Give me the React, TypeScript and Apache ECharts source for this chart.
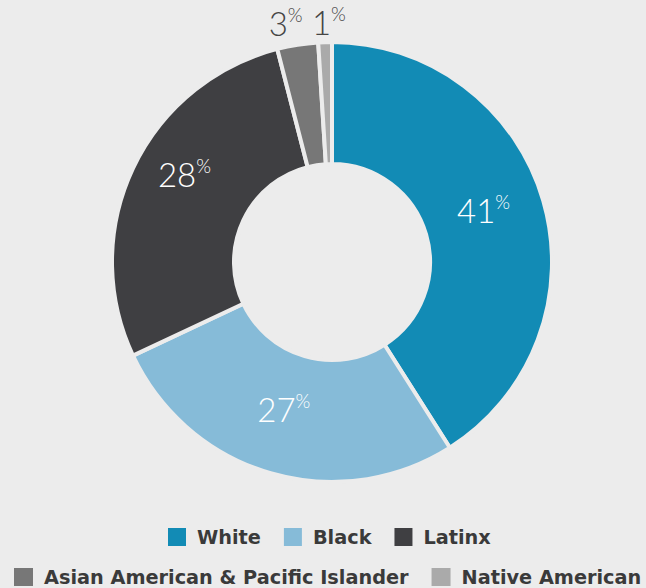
import React, { useEffect, useRef } from "react";
import * as echarts from "echarts";

const categories = ["White", "Black", "Latinx", "Asian American & Pacific Islander", "Native American"];
const values = [41, 27, 28, 3, 1];
const colors = ["#128bb5", "#86bbd8", "#3f3f42", "#777777", "#aaaaaa"];
const labelColors = ["#ffffff", "#ffffff", "#ffffff", "#454545", "#454545"];
const legendRow1 = ["White", "Black", "Latinx"];
const legendRow2 = ["Asian American & Pacific Islander", "Native American"];

export default function App() {
  const ref = useRef<HTMLDivElement>(null);
  useEffect(() => {
    if (!ref.current) return;
    const chart = echarts.init(ref.current, undefined, { renderer: "svg" });
    const makeRich = (color: string) => ({
      v: { fontSize: 33, fontFamily: "Lato", fontWeight: 300, lineHeight: 36, color },
      p: { fontSize: 19, fontFamily: "Lato", fontWeight: 300, lineHeight: 18, verticalAlign: "top", color },
    });
    const offsets = [[-4, -7], [-3, -9], [-1, -19], [-21, -79], [2, -78]];
    const data = categories.map((name, i) => ({
      name,
      value: values[i],
      itemStyle: { color: colors[i] },
      label: { offset: offsets[i], color: labelColors[i], rich: makeRich(labelColors[i]) },
    }));
    const legendText = {
      fontSize: 19.3,
      fontWeight: "bold",
      fontFamily: "DejaVu Sans",
      color: "#3a3a3a",
      padding: [0, 0, 0, 5],
    };
    chart.setOption({
      animation: false,
      backgroundColor: "#ececec",
      legend: [
        {
          data: legendRow1,
          left: 166,
          top: 526,
          padding: 0,
          itemWidth: 20,
          itemHeight: 20,
          itemGap: 21,
          icon: "rect",
          textStyle: legendText,
        },
        {
          data: legendRow2,
          left: 12,
          top: 566,
          padding: 0,
          itemWidth: 21,
          itemHeight: 20,
          itemGap: 21,
          icon: "rect",
          textStyle: legendText,
        },
      ],
      series: [
        {
          type: "pie",
          center: [332, 262],
          radius: [98, 220],
          startAngle: 90,
          clockwise: true,
          avoidLabelOverlap: false,
          itemStyle: { borderColor: "#ececec", borderWidth: 4 },
          label: {
            show: true,
            position: "inside",
            color: "#ffffff",
            formatter: "{v|{c}}{p|%}",
            rich: makeRich("#ffffff"),
          },
          labelLine: { show: false },
          emphasis: { disabled: true },
          data,
        },
      ],
    });
    return () => chart.dispose();
  }, []);
  return (
    <div
      ref={ref}
      style={{ position: "fixed", left: 0, top: 0, width: 646, height: 588 }}
    />
  );
}
